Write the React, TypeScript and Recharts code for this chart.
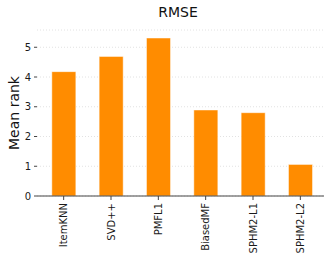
import React from 'react';
import { BarChart, Bar, XAxis, YAxis, CartesianGrid } from 'recharts';

const methods = ['ItemKNN', 'SVD++', 'PMFL1', 'BiasedMF', 'SPHM2-L1', 'SPHM2-L2'];
const meanRank = [4.18, 4.69, 5.31, 2.89, 2.8, 1.06];
const yTicks = [0, 1, 2, 3, 4, 5];

const data = methods.map((name, i) => ({ name, value: meanRank[i] }));

const FONT = '"DejaVu Sans", sans-serif';

const RotatedTick = (props: any) => {
  const { x, y, payload } = props;
  return (
    <g transform={`translate(${x},${y})`}>
      <text
        transform="rotate(-90)"
        x={0}
        y={0}
        dy="0.35em"
        textAnchor="end"
        fontSize={10}
        fontFamily={FONT}
        fill="#1a1a1a"
      >
        {payload.value}
      </text>
    </g>
  );
};

export default function App() {
  return (
    <div style={{ position: 'absolute', left: 0, top: 0, width: 333, height: 263, background: '#fff' }}>
      <div
        style={{
          position: 'absolute', left: 128, width: 100, top: 4, textAlign: 'center',
          fontFamily: FONT, fontSize: 14, color: '#111',
        }}
      >
        RMSE
      </div>
      <div style={{ position: 'absolute', left: 14, top: 113, width: 0, height: 0 }}>
        <div
          style={{
            position: 'absolute', left: -60, top: -9, width: 120, textAlign: 'center',
            transform: 'rotate(-90deg)', fontFamily: FONT, fontSize: 14, color: '#111', lineHeight: '18px',
          }}
        >
          Mean rank
        </div>
      </div>
      <BarChart
        width={333}
        height={263}
        data={data}
        margin={{ top: 30, right: 9, bottom: 0, left: 0 }}
        barCategoryGap="25%"
      >
        <CartesianGrid vertical={false} stroke="#e2e2e2" strokeDasharray="1 2" />
        <XAxis
          dataKey="name"
          interval={0}
          padding={{ left: 3, right: 0 }}
          height={67}
          tick={<RotatedTick />}
          tickSize={4}
          tickMargin={3}
          axisLine={{ stroke: '#444', strokeWidth: 1 }}
          tickLine={{ stroke: '#444' }}
        />
        <YAxis
          width={37}
          domain={[0, 5.58]}
          ticks={yTicks}
          axisLine={false}
          tickLine={{ stroke: '#444' }}
          tickSize={3}
          tickMargin={3}
          tick={{ fontSize: 10, fontFamily: FONT, fill: '#1a1a1a' }}
        />
        <Bar
          dataKey="value"
          fill="#ff8c00"
          stroke="#ffffff"
          strokeOpacity={0.45}
          strokeWidth={1}
          isAnimationActive={false}
        />
      </BarChart>
    </div>
  );
}
